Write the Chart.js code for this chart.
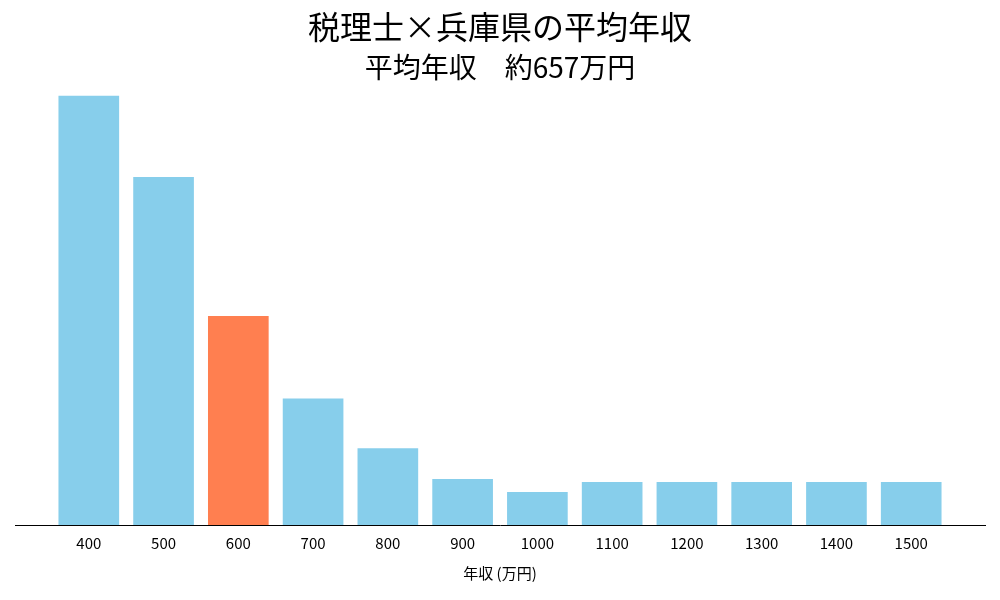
<!DOCTYPE html>
<html>
<head>
<meta charset="utf-8">
<script src="https://cdn.jsdelivr.net/npm/chart.js@4/dist/chart.umd.min.js"></script>
<style>
  body { margin: 0; background: #fff; }
  #wrap { width: 1000px; height: 600px; }
</style>
</head>
<body>
<div id="wrap"><canvas id="chart"></canvas></div>
<script>
var incomes = [400, 500, 600, 700, 800, 900, 1000, 1100, 1200, 1300, 1400, 1500];
var counts = [432, 350, 210, 127, 77, 46, 33, 43, 43, 43, 43, 43];
var highlight = 600;

var colors = incomes.map(function (v) { return v === highlight ? '#FF7F50' : '#87CEEB'; });
var font = "'Noto Sans CJK JP', 'Noto Sans', sans-serif";

new Chart(document.getElementById('chart'), {
  type: 'bar',
  data: {
    datasets: [{
      data: incomes.map(function (x, i) { return { x: x, y: counts[i] }; }),
      backgroundColor: colors,
      barThickness: 60
    }]
  },
  options: {
    responsive: true,
    maintainAspectRatio: false,
    animation: false,
    layout: { padding: { left: 15, right: 15, top: 0, bottom: 14 } },
    plugins: {
      legend: { display: false },
      tooltip: { enabled: false },
      title: {
        display: true,
        text: '税理士×兵庫県の平均年収',
        color: '#000',
        font: { family: font, size: 32, weight: 'normal' },
        padding: { top: 8, bottom: 4 }
      },
      subtitle: {
        display: true,
        text: '平均年収　約657万円',
        color: '#000',
        font: { family: font, size: 28 },
        padding: { bottom: 6 }
      }
    },
    scales: {
      x: {
        type: 'linear',
        offset: false,
        min: 301.3,
        max: 1598.7,
        afterBuildTicks: function (axis) {
          axis.ticks = incomes.map(function (v) { return { value: v }; });
        },
        grid: { display: false, drawTicks: true, tickLength: 5, tickColor: '#000' },
        border: { color: '#000', width: 1 },
        ticks: {
          color: '#000', font: { family: font, size: 15 }, autoSkip: false, padding: 4,
          callback: function (v) { return String(v); }
        },
        title: { display: true, text: '年収 (万円)', color: '#000', font: { family: font, size: 15 }, padding: { top: 8 } }
      },
      y: {
        display: false,
        min: 0,
        max: 438
      }
    }
  }
});
</script>
</body>
</html>
